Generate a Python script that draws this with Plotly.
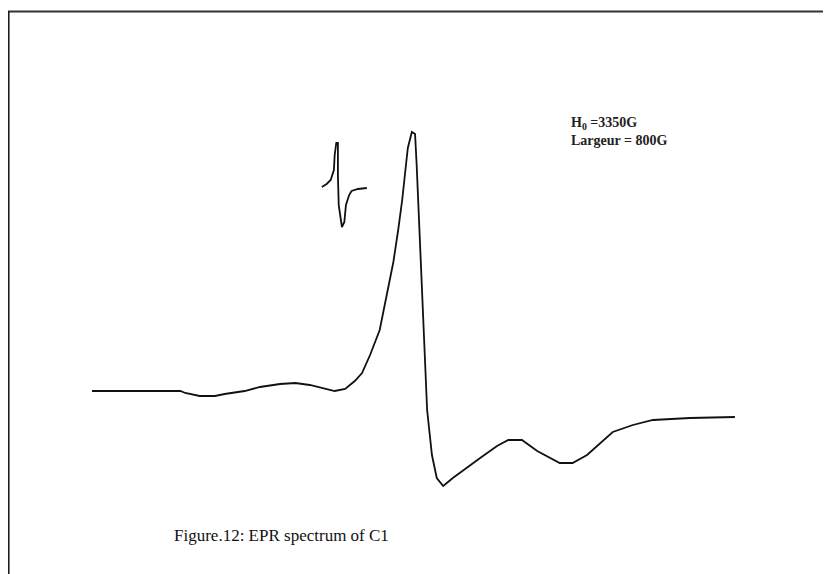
import plotly.graph_objects as go

# Main EPR spectrum (field in Gauss, signal in arbitrary units)
field_G = [2950, 3060, 3066, 3084, 3103, 3115, 3140, 3159, 3184, 3203, 3221, 3240,
           3252, 3265, 3277, 3286, 3296, 3308, 3317, 3325, 3331, 3336, 3340, 3343,
           3348, 3352, 3354, 3357, 3361, 3364, 3367, 3373, 3379, 3387, 3399, 3433,
           3454, 3468, 3485, 3504, 3532, 3548, 3566, 3598, 3623, 3648, 3694, 3750]
signal = [0, 0, -2, -5, -5, -3, 0, 4, 7, 8, 6, 2,
          0, 2, 10, 18, 36, 61, 96, 129, 161, 191, 221, 243,
          259, 257, 226, 171, 106, 46, -19, -64, -87, -95, -87, -67,
          -55, -49, -49, -60, -72, -72, -64, -41, -34, -29, -27, -26]

# Small reference (marker) signal drawn above
ref_field_G = [3236, 3242, 3247, 3251, 3252, 3254, 3256, 3256, 3257, 3260, 3261,
               3264, 3266, 3270, 3273, 3281, 3292]
ref_signal = [204, 207, 211, 221, 236, 248, 248, 216, 186, 169, 164,
              169, 186, 196, 200, 202, 203]

H0_label = "H<sub>0</sub> =3350G"
width_label = "Largeur = 800G"
caption = "Figure.12: EPR spectrum of C1"

# page places the figure 8px in from the top-left corner
off = 8

fig = go.Figure()
fig.add_trace(go.Scatter(x=field_G, y=signal, mode="lines",
                         line=dict(color="#111111", width=1.8), showlegend=False))
fig.add_trace(go.Scatter(x=ref_field_G, y=ref_signal, mode="lines",
                         line=dict(color="#111111", width=1.8), showlegend=False))

fig.update_xaxes(range=[2845.5, 3879.5], visible=False)
fig.update_yaxes(range=[-191, 383], visible=False)

fig.add_shape(type="line", xref="paper", yref="paper", x0=0, x1=1,
              y0=1-(11.5-off)/574, y1=1-(11.5-off)/574,
              line=dict(color="#333333", width=2))
fig.add_shape(type="line", xref="paper", yref="paper", x0=0.8/831, x1=0.8/831,
              y0=0, y1=1-(11.5-off)/574, line=dict(color="#111111", width=1.5))

fig.add_annotation(xref="paper", yref="paper", x=(569-off)/831, y=1-(131-off)/574,
                   xanchor="left", yanchor="middle", align="left", showarrow=False,
                   text=f"<b>{H0_label}<br>{width_label}</b>",
                   font=dict(family="Liberation Serif", size=14, color="#222222"))
fig.add_annotation(xref="paper", yref="paper", x=(172-off)/831, y=1-(535-off)/574,
                   xanchor="left", yanchor="middle", showarrow=False,
                   text=caption,
                   font=dict(family="Liberation Serif", size=17, color="#111111"))

fig.update_layout(width=831, height=574, margin=dict(l=0, r=0, t=0, b=0),
                  paper_bgcolor="white", plot_bgcolor="white")
fig.write_html("out.html")
